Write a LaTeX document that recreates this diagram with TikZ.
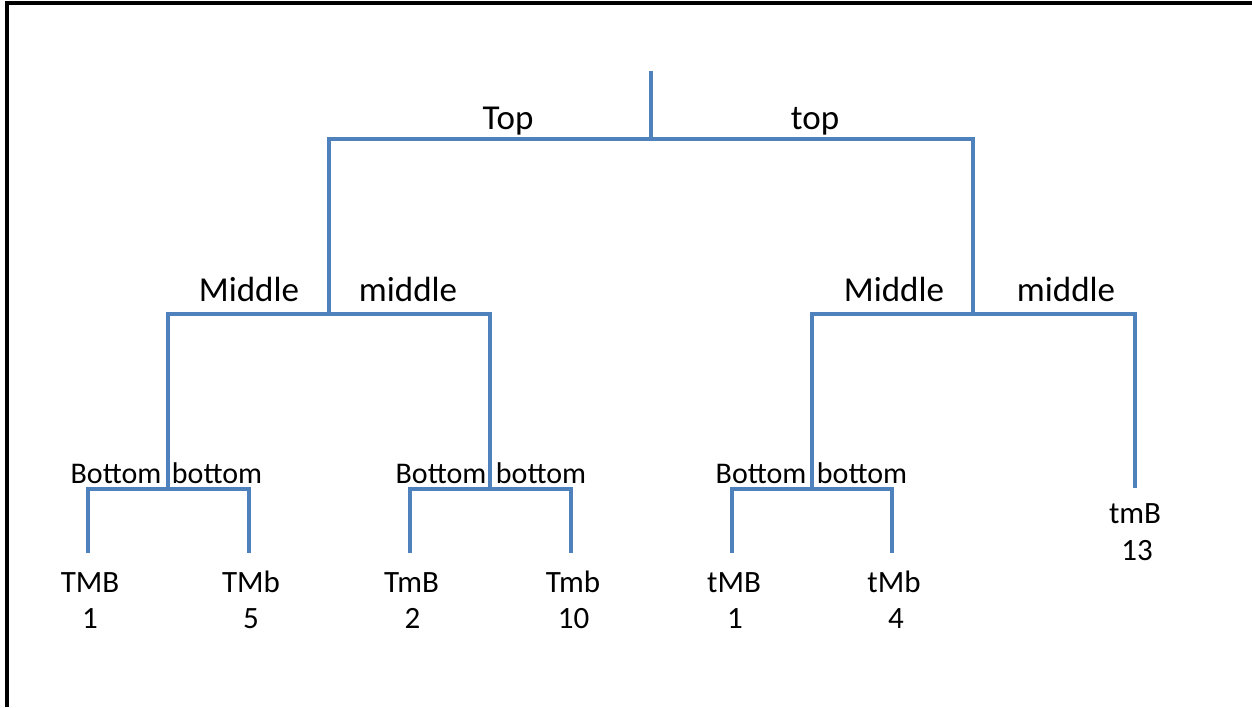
\documentclass[tikz,border=0pt]{standalone}
\usepackage{fontspec}
\setmainfont{Carlito}
\begin{document}
\begin{tikzpicture}[x=0.5pt,y=-0.5pt,
  branch/.style={draw=treeblue,line width=2pt},
  lbig/.style={anchor=base,inner sep=0pt,font=\fontsize{17.5pt}{21pt}\selectfont},
  lsmall/.style={anchor=base,inner sep=0pt,font=\fontsize{15pt}{18pt}\selectfont},
  leaf/.style={anchor=base,inner sep=0pt,font=\fontsize{15.5pt}{18pt}\selectfont}]
\definecolor{treeblue}{HTML}{4F81BD}
\useasboundingbox (0,0) rectangle (1252,707);
\draw[line width=1.6pt] (7,707) -- (7,3) -- (1252,3);
% junction coordinates
\coordinate (root) at (650.5,71);
\coordinate (A) at (650.5,138.5);
\coordinate (L) at (329,314);
\coordinate (R) at (973,314);
\coordinate (LL) at (168,488.5);
\coordinate (LR) at (489.5,488.5);
\coordinate (RL) at (812,488.5);
\coordinate (RR) at (1134.5,488);
\coordinate (e1) at (87.5,553);
\coordinate (e2) at (248.5,553);
\coordinate (e3) at (410,553);
\coordinate (e4) at (571,553);
\coordinate (e5) at (732,553);
\coordinate (e6) at (892,553);
% branches
\draw[branch] (root) -- (A);
\draw[branch] (L) |- (A) -| (R);
\draw[branch] (LL) |- (L) -| (LR);
\draw[branch] (RL) |- (R) -| (RR);
\draw[branch] (e1) |- (LL) -| (e2);
\draw[branch] (e3) |- (LR) -| (e4);
\draw[branch] (e5) |- (RL) -| (e6);
% labels
\node[lbig] (tT) at (508,129) {Top};
\node[lbig] (tt) at (815,129) {top};
\node[lbig] (m1) at (249,301) {Middle};
\node[lbig] (m2) at (408,301) {middle};
\node[lbig] (m3) at (894,301) {Middle};
\node[lbig] (m4) at (1066,301) {middle};
\node[lsmall] (b1) at (116,483) {Bottom};
\node[lsmall] (b2) at (217,483) {bottom};
\node[lsmall] (b3) at (441,483) {Bottom};
\node[lsmall] (b4) at (541,483) {bottom};
\node[lsmall] (b5) at (761,483) {Bottom};
\node[lsmall] (b6) at (862,483) {bottom};
% leaves
\node[leaf] (n1) at (90,592) {TMB};
\node[leaf] (v1) at (90,628) {1};
\node[leaf] (n2) at (251,592) {TMb};
\node[leaf] (v2) at (251,628) {5};
\node[leaf] (n3) at (411.5,592) {TmB};
\node[leaf] (v3) at (412.5,628) {2};
\node[leaf] (n4) at (573,592) {Tmb};
\node[leaf] (v4) at (573.5,628) {10};
\node[leaf] (n5) at (734,592) {tMB};
\node[leaf] (v5) at (735,628) {1};
\node[leaf] (n6) at (894,592) {tMb};
\node[leaf] (v6) at (896,628) {4};
\node[leaf] (n7) at (1135,523) {tmB};
\node[leaf] (v7) at (1137,560) {13};
\end{tikzpicture}
\end{document}
